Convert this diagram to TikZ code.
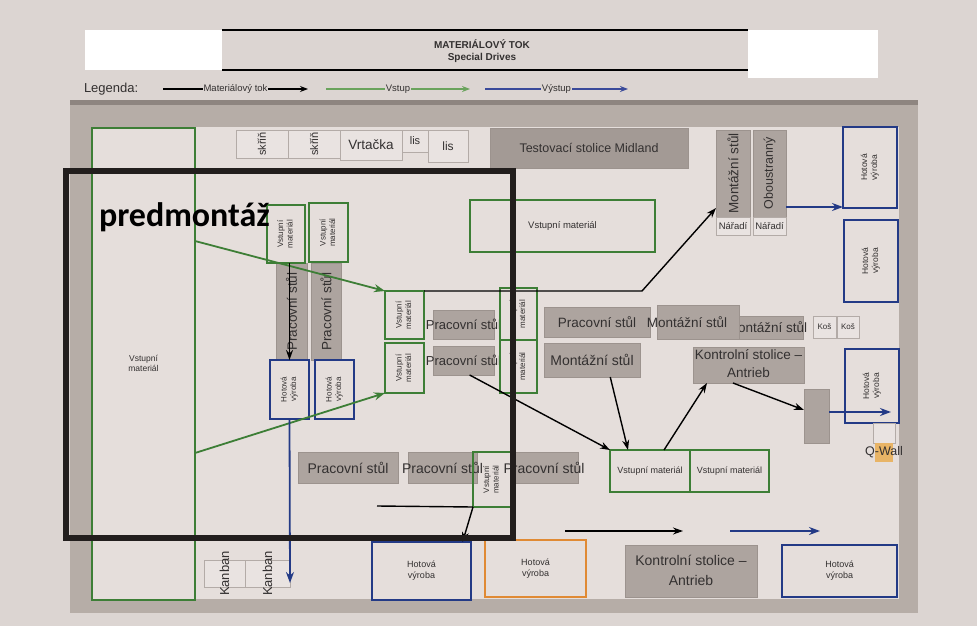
\documentclass[tikz,border=0pt]{standalone}
\usepackage{fontspec}
\setmainfont{Liberation Sans}
\newfontfamily\predfont{Carlito}
\usepackage{graphicx}
\usetikzlibrary{calc,arrows.meta}
\definecolor{pagebg}{HTML}{DCD5D2}
\definecolor{boardc}{HTML}{E5DEDB}
\definecolor{framec}{HTML}{B6ADA7}
\definecolor{framedk}{HTML}{8E8580}
\definecolor{gfill}{HTML}{ADA49F}
\definecolor{gfilldk}{HTML}{A39A95}
\definecolor{gdraw}{HTML}{9C938E}
\definecolor{lfill}{HTML}{E9E3E1}
\definecolor{ldraw}{HTML}{B3ABA7}
\definecolor{grn}{HTML}{3D7E36}
\definecolor{lgrn}{HTML}{6AA35C}
\definecolor{blu}{HTML}{233A86}
\definecolor{lblu}{HTML}{3A4A9A}
\definecolor{org}{HTML}{E08A34}
\definecolor{qfill}{HTML}{E8B466}
\definecolor{txt}{HTML}{333030}
\definecolor{framek}{HTML}{221E1D}
\newcommand{\fsz}[2]{\fontsize{#1}{#2}\selectfont}
\newcommand{\bx}[7]{\node[#6,minimum width={(#4-#2)*1pt},minimum height={(#5-#3)*1pt}] (#1) at ({(#2+#4)/2},{(#3+#5)/2}) {#7};}
\newcommand{\oneL}[1]{\makebox[0pt]{#1}}
\newcommand{\twoL}[2]{\makebox[0pt]{\begin{tabular}{@{}c@{}}#1\\#2\end{tabular}}}
\newcommand{\vrt}[1]{\rotatebox{90}{#1}}
\begin{document}
\begin{tikzpicture}[x=1pt,y=-1pt,
  every node/.style={inner sep=0pt,outer sep=0pt,text=txt},
  gbox/.style={draw=grn,line width=2.4pt},
  bbox/.style={draw=blu,line width=2.4pt},
  obox/.style={draw=org,line width=2.4pt},
  grayb/.style={fill=gfill,draw=gdraw,line width=0.5pt},
  grayd/.style={fill=gfilldk,draw=gdraw,line width=0.5pt},
  lbox/.style={fill=lfill,draw=ldraw,line width=0.6pt},
  blk/.style={draw=black,line width=1.4pt,-{Stealth[length=10pt,width=7pt]}},
  grnarr/.style={draw=grn,line width=1.8pt,-{Stealth[length=11pt,width=8pt]}},
  bluarr/.style={draw=blu,line width=1.8pt,-{Stealth[length=11pt,width=8pt]}}]
\useasboundingbox (0,0) rectangle (977,626);
\fill[pagebg] (0,0) rectangle (977,626);
% header
\bx{hdrL}{85}{30}{222}{70}{fill=white}{}
\bx{hdrR}{748}{30}{878}{78}{fill=white}{}
\draw[line width=1.2pt] (hdrL.north east) -- (hdrR.north west);
\draw[line width=2.2pt] (hdrL.south east) -- (hdrR.west |- hdrL.south);
\node[font=\bfseries\fsz{10}{11}] (title) at (482,44) {MATERIÁLOVÝ TOK};
\node[font=\bfseries\fsz{10}{11}] (sub) at (482,58) {Special Drives};
% legend
\node[font=\fsz{13}{14},anchor=west] (leg) at (84,89) {Legenda:};
\coordinate (la1) at (163,89); \coordinate (la2) at (308,89);
\coordinate (lb1) at (326,89); \coordinate (lb2) at (470,89);
\coordinate (lc1) at (485,89); \coordinate (lc2) at (628,89);
\draw[line width=1.3pt,-{Stealth[length=8pt,width=6pt]}] (la1) -- node[fill=pagebg,inner xsep=1pt,font=\fsz{9.5}{10}] (lt1) {Materiálový tok} (la2);
\draw[draw=lgrn,line width=1.3pt,-{Stealth[length=8pt,width=6pt]}] (lb1) -- node[fill=pagebg,inner xsep=1pt,font=\fsz{9.5}{10}] (lt2) {Vstup} (lb2);
\draw[draw=lblu,line width=1.3pt,-{Stealth[length=8pt,width=6pt]}] (lc1) -- node[fill=pagebg,inner xsep=1pt,font=\fsz{9.5}{10}] (lt3) {Výstup} (lc2);
% board
\fill[framec] (70,103) rectangle (918,613);
\fill[framedk] (70,100) rectangle (918,105);
\fill[boardc] (92,127) rectangle (899,599);
% left input
\bx{vmL}{92}{128}{195}{600}{gbox}{\fsz{8.5}{10}\twoL{Vstupní}{materiál}}
% top row
\bx{sk1}{236}{130}{288}{158}{lbox}{\fsz{11}{12}\vrt{\oneL{skříň}}}
\bx{sk2}{288}{130}{340}{158}{lbox}{\fsz{11}{12}\vrt{\oneL{skříň}}}
\bx{vrt}{340}{130}{402}{160}{lbox}{\fsz{13.5}{14}\oneL{Vrtačka}}
\bx{lisA}{402}{130}{428}{152}{lbox}{\fsz{11}{12}\oneL{lis}}
\bx{lisB}{428}{130}{468}{162}{lbox}{\fsz{12}{12}\oneL{lis}}
\bx{tsm}{490}{128}{688}{168}{grayd}{\fsz{12.5}{13}\oneL{Testovací stolice Midland}}
% right top
\bx{mts}{716}{130}{750}{217}{grayb}{\fsz{13.5}{14}\vrt{\oneL{Montážní stůl}}}
\bx{obo}{753}{130}{786}{217}{grayb}{\fsz{12.5}{13}\vrt{\oneL{Oboustranný}}}
\bx{nar1}{716}{217}{750}{235}{lbox}{\fsz{9.5}{10}\oneL{Nářadí}}
\bx{nar2}{753}{217}{786}{235}{lbox}{\fsz{9.5}{10}\oneL{Nářadí}}
\bx{hvR1}{843}{127}{897}{208}{bbox}{\fsz{8.5}{10}\vrt{\twoL{Hotová}{výroba}}}
\bx{hvR2}{844}{220}{898}{302}{bbox}{\fsz{8.5}{10}\vrt{\twoL{Hotová}{výroba}}}
\bx{vmT}{470}{200}{655}{252}{gbox}{\fsz{9.5}{10}\oneL{Vstupní materiál}}
% left cluster
\bx{ps1v}{276}{263}{307}{360}{grayb}{\fsz{13.5}{14}\vrt{\oneL{Pracovní stůl}}}
\bx{ps2v}{311}{263}{341}{360}{grayb}{\fsz{13.5}{14}\vrt{\oneL{Pracovní stůl}}}
\bx{vs1}{267}{205}{305}{263}{gbox}{\fsz{8}{9.5}\vrt{\twoL{Vstupní}{materiál}}}
\bx{vs2}{309}{203}{348}{262}{gbox}{\fsz{8}{9.5}\vrt{\twoL{Vstupní}{materiál}}}
\bx{hv1}{270}{360}{309}{419}{bbox}{\fsz{8}{9.5}\vrt{\twoL{Hotová}{výroba}}}
\bx{hv2}{315}{360}{354}{419}{bbox}{\fsz{8}{9.5}\vrt{\twoL{Hotová}{výroba}}}
% center cluster
\bx{psA}{433}{310}{494}{339}{grayb}{\fsz{13}{14}\oneL{Pracovní stůl}}
\bx{psB}{433}{346}{494}{375}{grayb}{\fsz{13}{14}\oneL{Pracovní stůl}}
\bx{vmA}{385}{291}{424}{339}{gbox}{\fsz{8}{9.5}\vrt{\twoL{Vstupní}{materiál}}}
\bx{vmB}{385}{343}{424}{393}{gbox}{\fsz{8}{9.5}\vrt{\twoL{Vstupní}{materiál}}}
\bx{vmM1}{500}{288}{537}{340}{gbox}{\fsz{8}{9.5}\vrt{\twoL{Vstupní}{materiál}}}
\bx{vmM2}{500}{340}{537}{393}{gbox}{\fsz{8}{9.5}\vrt{\twoL{Vstupní}{materiál}}}
% right middle
\bx{psC}{544}{307}{650}{337}{grayb}{\fsz{13.5}{14}\oneL{Pracovní stůl}}
\bx{mzB}{739}{316}{803}{339}{grayb}{\fsz{13.5}{14}\hspace*{-8pt}\oneL{Montážní stůl}}
\bx{mzA}{657}{305}{739}{339}{grayb}{\fsz{13.5}{14}\hspace*{-22pt}\oneL{Montážní stůl}}
\bx{kos1}{813}{316}{836}{338}{lbox}{\fsz{8}{9}\oneL{Koš}}
\bx{kos2}{837}{316}{859}{338}{lbox}{\fsz{8}{9}\oneL{Koš}}
\bx{mzC}{544}{343}{640}{377}{grayb}{\fsz{14}{14}\oneL{Montážní stůl}}
\bx{ks1}{693}{348}{804}{382}{grayb}{\fsz{13.5}{18}\twoL{Kontrolní stolice –}{Antrieb}}
\bx{sg}{804}{389}{829}{443}{grayb}{}
\bx{hvR3}{845}{349}{899}{423}{bbox}{\fsz{8.5}{10}\vrt{\twoL{Hotová}{výroba}}}
\bx{qw0}{873}{423}{895}{443}{lbox}{}
\bx{qw}{875}{443}{893}{462}{fill=qfill}{\fsz{12.5}{13}\oneL{Q-Wall}}
\bx{vbr1}{610}{450}{690}{492}{gbox}{\fsz{9}{10}\oneL{Vstupní materiál}}
\bx{vbr2}{690}{450}{769}{492}{gbox}{\fsz{9}{10}\oneL{Vstupní materiál}}
% bottom middle
\bx{pb1}{298}{452}{398}{483}{grayb}{\fsz{14}{14}\oneL{Pracovní stůl}}
\bx{pb2}{408}{452}{477}{483}{grayb}{\fsz{14}{14}\oneL{Pracovní stůl}}
\bx{pb3}{510}{452}{578}{483}{grayb}{\fsz{14}{14}\oneL{Pracovní stůl}}
\bx{vmC}{473}{452}{511}{507}{gbox}{\fsz{8}{9.5}\vrt{\twoL{Vstupní}{materiál}}}
% bottom row
\bx{kb1}{204}{560}{245}{587}{lbox}{\fsz{13}{14}\vrt{\oneL{Kanban}}}
\bx{kb2}{245}{560}{290}{587}{lbox}{\fsz{13}{14}\vrt{\oneL{Kanban}}}
\bx{hvB1}{372}{542}{471}{600}{bbox}{\fsz{9}{11}\twoL{Hotová}{výroba}}
\bx{hvB2}{485}{540}{586}{597}{obox}{\fsz{9}{11}\twoL{Hotová}{výroba}}
\bx{ks2}{625}{545}{757}{597}{grayb}{\fsz{14}{20}\twoL{Kontrolní stolice –}{Antrieb}}
\bx{hvB3}{782}{545}{897}{597}{bbox}{\fsz{9}{11}\twoL{Hotová}{výroba}}
% connectors
\draw[grnarr] (vmL.east |- 0,241) -- (vmA.north west);
\draw[grnarr] (vmL.east |- 0,453) -- (vmB.south west);
\draw[blk] (hv1.north |- vs1.south) -- (hv1.north);
\coordinate (bendA) at (642,291);
\draw[blk] (vmA.north east) -- (bendA) -- ($(mts.south west)+(0,-9)$);
\draw[bluarr] (obo.east |- 0,207) -- (hvR1.west |- 0,207);
\draw[blk] ($(psB.south west)!0.6!(psB.south east)$) -- (vbr1.north west);
\draw[blk] ($(mzC.south west)!0.69!(mzC.south east)$) -- ($(vbr1.north west)!0.225!(vbr1.north east)$);
\draw[blk] ($(vbr1.north west)!0.675!(vbr1.north east)$) -- ($(ks1.south west)!0.126!(ks1.south east)$);
\draw[blk] ($(ks1.south west)!0.36!(ks1.south east)$) -- (sg.west |- 0,410);
\draw[bluarr] (sg.east |- 0,412) -- ($(hvR3.east |- 0,412)+(-8,0)$);
\coordinate (lineS) at (377,506);
\draw[line width=1.4pt] (lineS) -- (vmC.south west);
\draw[blk] (vmC.south west) -- ($(hvB1.north west)!0.915!(hvB1.north east)$);
\coordinate (kbEnd) at (290,583);
\draw[bluarr] (hv1.south) -- (kbEnd);
\coordinate (fa1) at (565,531); \coordinate (fa2) at (683,531);
\draw[blk] (fa1) -- (fa2);
\coordinate (fb1) at (730,531); \coordinate (fb2) at (820,531);
\draw[bluarr] (fb1) -- (fb2);
% predmontaz frame
\bx{frame}{66}{171}{513}{538}{draw=framek,line width=6.5pt}{}
\node[anchor=base west,font=\predfont\bfseries\fsz{34}{36},text=black] (pred) at (99,226) {predmontáž};
\end{tikzpicture}
\end{document}
